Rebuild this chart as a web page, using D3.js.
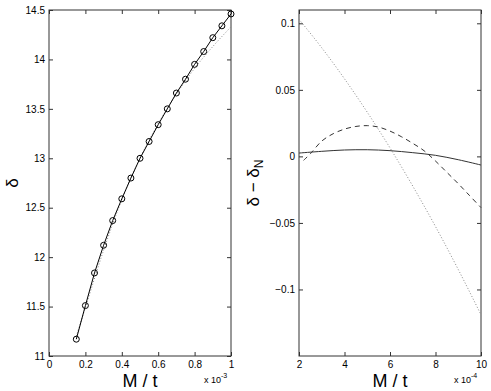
<!DOCTYPE html>
<html>
<head>
<meta charset="utf-8">
<script src="https://cdn.jsdelivr.net/npm/d3@7"></script>
<style>
  body { margin: 0; background: #fff; }
  text { font-family: "Liberation Sans", Arial, sans-serif; fill: #000; }
</style>
</head>
<body>
<svg id="chart"></svg>
<script>
// left panel: delta vs M/t (x in units of 1e-3)
const leftX = [0.15, 0.2, 0.25, 0.3, 0.35, 0.4, 0.45, 0.5, 0.55, 0.6, 0.65, 0.7, 0.75, 0.8, 0.85, 0.9, 0.95, 1.0];
const leftDelta = [11.17, 11.51, 11.84, 12.12, 12.37, 12.59, 12.80, 13.00, 13.17, 13.34, 13.50, 13.66, 13.80, 13.95, 14.08, 14.22, 14.34, 14.46];
const leftApproxX = [0.15, 0.2, 0.3, 0.4, 0.5, 0.6, 0.7, 0.8, 0.9, 1.0];
const leftApprox = [11.20, 11.49, 12.07, 12.58, 13.00, 13.35, 13.65, 13.91, 14.13, 14.33];
const leftXTicks = [0, 0.2, 0.4, 0.6, 0.8, 1];
const leftYTicks = [11, 11.5, 12, 12.5, 13, 13.5, 14, 14.5];

// right panel: delta - delta_N vs M/t (x in units of 1e-4)
const rightSolidX = [2, 3, 4, 5, 6, 7, 8, 9, 10];
const rightSolid = [0.0025, 0.0038, 0.0048, 0.0050, 0.0043, 0.0028, 0.0008, -0.0025, -0.0065];
const rightDashX = [2.2, 2.5, 3, 3.5, 4, 4.5, 5, 5.5, 6, 6.5, 7, 7.5, 8, 8.5, 9, 9.5, 10];
const rightDash = [-0.003, 0.002, 0.0115, 0.0170, 0.0205, 0.0225, 0.0231, 0.0220, 0.0190, 0.0148, 0.0098, 0.0042, -0.0035, -0.0120, -0.0205, -0.0295, -0.0385];
const rightDotX = [2, 3, 4, 5, 6, 7, 8, 9, 10];
const rightDot = [0.103, 0.0816, 0.0583, 0.0332, 0.0064, -0.0223, -0.0527, -0.085, -0.119];
const rightXTicks = [2, 4, 6, 8, 10];
const rightYTicks = [0.1, 0.05, 0, -0.05, -0.1];

const width = 491, height = 391;
const plotTop = 10, plotBottom = 356;

const svg = d3.select("#chart")
    .attr("width", width)
    .attr("height", height);

function panel(opts) {
    const g = svg.append("g");
    const x = d3.scaleLinear().domain(opts.xDomain).range([opts.left, opts.right]);
    const y = d3.scaleLinear().domain(opts.yDomain).range([plotBottom, plotTop]);

    // inward ticks on all four sides
    g.append("g")
        .attr("transform", `translate(0,${plotBottom})`)
        .call(d3.axisBottom(x).tickValues(opts.xTicks).tickSizeInner(-4).tickSizeOuter(0).tickPadding(5).tickFormat(d => d));
    g.append("g")
        .attr("transform", `translate(0,${plotTop})`)
        .call(d3.axisTop(x).tickValues(opts.xTicks).tickSizeInner(-4).tickSizeOuter(0).tickFormat(""));
    g.append("g")
        .attr("transform", `translate(${opts.left},0)`)
        .call(d3.axisLeft(y).tickValues(opts.yTicks).tickSizeInner(-4).tickSizeOuter(0).tickPadding(4).tickFormat(opts.yFormat));
    g.append("g")
        .attr("transform", `translate(${opts.right},0)`)
        .call(d3.axisRight(y).tickValues(opts.yTicks).tickSizeInner(-4).tickSizeOuter(0).tickFormat(""));

    g.selectAll(".domain").remove();
    g.selectAll(".tick line").attr("stroke", "#333");
    g.selectAll(".tick text")
        .style("font-family", '"Liberation Sans", Arial, sans-serif')
        .style("font-size", "10px");

    g.append("rect")
        .attr("x", opts.left)
        .attr("y", plotTop)
        .attr("width", opts.right - opts.left)
        .attr("height", plotBottom - plotTop)
        .attr("fill", "none")
        .attr("stroke", "#333")
        .attr("stroke-width", 1);

    // x label + exponent
    g.append("text")
        .attr("x", (opts.left + opts.right) / 2)
        .attr("y", 387)
        .attr("text-anchor", "middle")
        .style("font-size", "18px")
        .text("M / t");

    const exp = g.append("text")
        .attr("x", opts.right - 27)
        .attr("y", 383)
        .style("font-size", "9px");
    exp.append("tspan").text("x 10");
    exp.append("tspan").attr("dy", -5).style("font-size", "7px").text(opts.exponent);

    return { g, x, y };
}

// ---- left panel ----
const L = panel({
    left: 49, right: 231,
    xDomain: [0, 1], yDomain: [11, 14.5],
    xTicks: leftXTicks, yTicks: leftYTicks,
    yFormat: d => d,
    exponent: "-3"
});

L.g.append("path")
    .datum(d3.zip(leftApproxX, leftApprox))
    .attr("d", d3.line().curve(d3.curveMonotoneX).x(d => L.x(d[0])).y(d => L.y(d[1])))
    .attr("fill", "none")
    .attr("stroke", "#888")
    .attr("stroke-width", 1)
    .attr("stroke-dasharray", "1,2");

L.g.append("path")
    .datum(d3.zip(leftX, leftDelta))
    .attr("d", d3.line().x(d => L.x(d[0])).y(d => L.y(d[1])))
    .attr("fill", "none")
    .attr("stroke", "#000")
    .attr("stroke-width", 1);

L.g.selectAll("circle")
    .data(d3.zip(leftX, leftDelta))
    .enter()
    .append("circle")
    .attr("cx", d => L.x(d[0]))
    .attr("cy", d => L.y(d[1]))
    .attr("r", 3)
    .attr("fill", "none")
    .attr("stroke", "#000")
    .attr("stroke-width", 1);

svg.append("text")
    .attr("transform", `translate(18,${(plotTop + plotBottom) / 2}) rotate(-90)`)
    .attr("text-anchor", "middle")
    .style("font-size", "17px")
    .text("δ");

// ---- right panel ----
const R = panel({
    left: 299, right: 481,
    xDomain: [2, 10], yDomain: [-0.15, 0.11],
    xTicks: rightXTicks, yTicks: rightYTicks,
    yFormat: d => (d < 0 ? "\u2212" + Math.abs(d) : d),
    exponent: "-4"
});

R.g.append("path")
    .datum(d3.zip(rightDotX, rightDot))
    .attr("d", d3.line().curve(d3.curveMonotoneX).x(d => R.x(d[0])).y(d => R.y(d[1])))
    .attr("fill", "none")
    .attr("stroke", "#888")
    .attr("stroke-width", 1)
    .attr("stroke-dasharray", "1,2");

R.g.append("path")
    .datum(d3.zip(rightDashX, rightDash))
    .attr("d", d3.line().curve(d3.curveCatmullRom).x(d => R.x(d[0])).y(d => R.y(d[1])))
    .attr("fill", "none")
    .attr("stroke", "#333")
    .attr("stroke-width", 1)
    .attr("stroke-dasharray", "5,4");

R.g.append("path")
    .datum(d3.zip(rightSolidX, rightSolid))
    .attr("d", d3.line().curve(d3.curveCatmullRom).x(d => R.x(d[0])).y(d => R.y(d[1])))
    .attr("fill", "none")
    .attr("stroke", "#333")
    .attr("stroke-width", 1);

const ylab = svg.append("text")
    .attr("transform", `translate(259,${(plotTop + plotBottom) / 2}) rotate(-90)`)
    .attr("text-anchor", "middle")
    .style("font-size", "17px");
ylab.append("tspan").text("δ − δ");
ylab.append("tspan").attr("dy", 4).style("font-size", "12px").text("N");
</script>
</body>
</html>
